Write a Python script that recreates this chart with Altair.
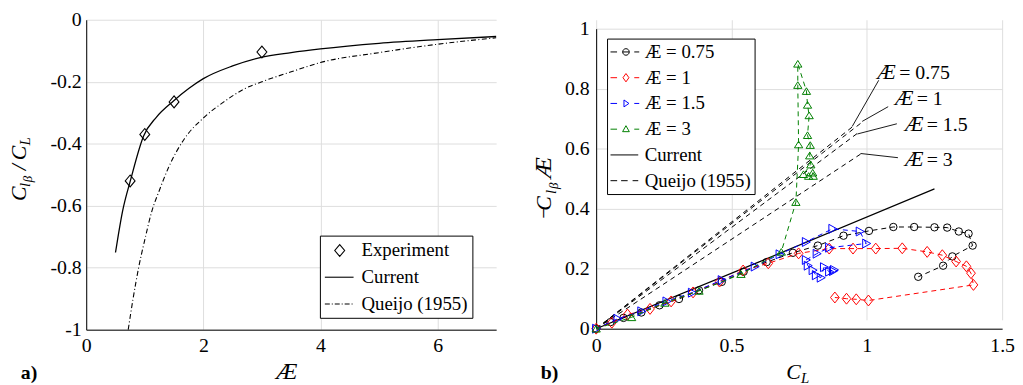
import altair as alt
import pandas as pd

FONT = "Liberation Serif"

# ---------------- panel a data ----------------
exp_ar = [0.75, 1.0, 1.5, 3.0]
exp_val = [-0.52, -0.37, -0.265, -0.104]
cur_a_ar = [0.5, 0.62, 0.76, 0.98, 1.2, 1.49, 1.75, 2.0, 2.5, 2.97, 3.5, 4.0, 5.0, 6.0, 7.0]
cur_a_val = [-0.751, -0.618, -0.515, -0.375, -0.314, -0.262, -0.222, -0.19, -0.149, -0.122,
             -0.106, -0.094, -0.076, -0.064, -0.054]
que_a_ar = [0.717, 0.8, 0.9, 1.0, 1.12, 1.25, 1.4, 1.68, 2.0, 2.35, 2.69, 3.0, 3.5, 4.0, 5.0, 6.0, 7.0]
que_a_val = [-1.0, -0.9, -0.795, -0.71, -0.618, -0.55, -0.479, -0.383, -0.317, -0.265,
             -0.224, -0.2, -0.168, -0.138, -0.106, -0.079, -0.058]
legend_a_names = ["Experiment", "Current", "Queijo (1955)"]
legend_a_paths = [
    "M0.5,-0.6L1,0L0.5,0.6L0,0Z",
    "M-1,0H1.9",
    "M-1,0H-0.5M-0.3,0H-0.2M0,0H0.5M0.7,0H0.8M1,0H1.5M1.7,0H1.8",
]
xticks_a = [0, 2, 4, 6]
yticks_a = [-1, -0.8, -0.6, -0.4, -0.2, 0]

# ---------------- panel b data ----------------
s075_cl = [0, 0.053, 0.101, 0.167, 0.234, 0.306, 0.38, 0.464, 0.545, 0.63, 0.727, 0.819, 0.914,
           1.008, 1.098, 1.175, 1.25, 1.297, 1.34, 1.376, 1.391, 1.316, 1.282, 1.19]
s075_v = [0, 0.022, 0.036, 0.054, 0.078, 0.099, 0.128, 0.156, 0.19, 0.222, 0.253, 0.277, 0.31,
          0.326, 0.339, 0.339, 0.338, 0.337, 0.324, 0.317, 0.277, 0.241, 0.21, 0.173]
s1_cl = [0, 0.058, 0.116, 0.199, 0.277, 0.358, 0.456, 0.543, 0.636, 0.748, 0.861, 0.949, 1.033,
         1.131, 1.223, 1.279, 1.33, 1.368, 1.385, 1.394, 1.006, 0.961, 0.925, 0.882]
s1_v = [0, 0.02, 0.047, 0.066, 0.091, 0.121, 0.157, 0.194, 0.218, 0.251, 0.267, 0.267, 0.267,
        0.268, 0.256, 0.245, 0.224, 0.208, 0.185, 0.146, 0.094, 0.098, 0.1, 0.104]
s15_cl = [0, 0.079, 0.167, 0.26, 0.354, 0.464, 0.586, 0.678, 0.775, 0.873, 0.974, 0.998, 0.861,
          0.815, 0.775, 0.782, 0.8, 0.812, 0.83, 0.842, 0.861, 0.875, 0.879]
s15_v = [0, 0.033, 0.058, 0.091, 0.12, 0.162, 0.207, 0.248, 0.289, 0.333, 0.324, 0.284, 0.27,
         0.25, 0.229, 0.21, 0.195, 0.178, 0.17, 0.205, 0.19, 0.192, 0.196]
s3_cl = [0, 0.131, 0.254, 0.38, 0.535, 0.684, 0.738, 0.748, 0.745, 0.745, 0.777, 0.781, 0.787,
         0.781, 0.791, 0.789, 0.793, 0.766, 0.785, 0.802, 0.8]
s3_v = [0, 0.038, 0.086, 0.126, 0.182, 0.256, 0.422, 0.614, 0.812, 0.883, 0.792, 0.746, 0.711,
        0.645, 0.612, 0.577, 0.547, 0.515, 0.509, 0.509, 0.52]
series_b = [
    ("Æ = 0.75", s075_cl, s075_v, "black", "circle", 56),
    ("Æ = 1", s1_cl, s1_v, "#ff0000", "M0,-1L0.8,0L0,1L-0.8,0Z", 121),
    ("Æ = 1.5", s15_cl, s15_v, "#0000ff", "M-0.8,-1L1,0L-0.8,1Z", 81),
    ("Æ = 3", s3_cl, s3_v, "#008000", "M0,-0.8L1,0.8L-1,0.8Z", 70),
]
cur_b_cl = [0, 0.6, 1.25]
cur_b_v = [0, 0.222, 0.466]
que_b_ar = ["0.75", "1", "1.5", "3"]
que_b_end_cl = [0.95, 0.985, 0.965, 0.977]
que_b_end_v = [0.675, 0.69, 0.651, 0.582]
ann_labels = ["= 0.75", "= 1", "= 1.5", "= 3"]
ann_cl = [1.039, 1.104, 1.141, 1.141]
ann_v = [0.852, 0.764, 0.680, 0.561]
lead_from_cl = [1.044, 1.079, 1.111, 1.115]
lead_from_v = [0.828, 0.740, 0.683, 0.570]
lead_to_cl = [0.946, 0.983, 0.965, 0.977]
lead_to_v = [0.674, 0.691, 0.649, 0.584]
legend_b_names = ["Æ = 0.75", "Æ = 1", "Æ = 1.5", "Æ = 3", "Current", "Queijo (1955)  "]
legend_b_colors = ["black", "#ff0000", "#0000ff", "#008000", "black", "black"]
legend_b_paths = [
    "M-1,0H-0.34M0.23,0A0.33,0.33 0 1,1 0.89,0A0.33,0.33 0 1,1 0.23,0M0.23,0H0.89M1.4,0H1.9",
    "M-1,0H-0.34M0.56,-0.42L0.86,0L0.56,0.42L0.26,0ZM1.4,0H1.9",
    "M-1,0H-0.34M0.36,-0.35L0.86,0L0.36,0.35ZM1.4,0H1.9",
    "M-1,0H-0.34M0.56,-0.35L0.9,0.25L0.22,0.25ZM1.4,0H1.9",
    "M-1,0H1.8",
    "M-1,0H-0.33M0.07,0H0.73M1.23,0H1.8",
]
xticks_b = [0, 0.5, 1, 1.5]
yticks_b = [0, 0.2, 0.4, 0.6, 0.8, 1]

# title pieces (text, x, y, size, style)
title_a = [("C", -61, 183, 22, "italic"), ("l", -57, 169, 15, "italic"), ("β", -55, 164, 13, "italic"),
           ("/", -61, 152, 22, "italic"), ("C", -61, 142, 22, "italic"), ("L", -57, 127, 15, "italic")]
xtitle_a = [("Æ", 192, 363, 24, "italic")]
title_b = [("−", -46, 201, 22, "normal"), ("C", -46, 193, 22, "italic"), ("l", -41, 176, 15, "italic"),
           ("β", -39, 171, 13, "italic"), ("Æ", -46, 160, 24, "italic")]
xtitle_b = [("C", 192, 363, 22, "italic"), ("L", 207, 367, 15, "italic")]
W_A, H_A = 414, 313
W_B, H_B = 410, 312

LABEL_EXPR = "replace(format(datum.value, '~g'), '\u2212', '-')"


def axis(values, pad):
    return alt.Axis(values=values, title=None, domainColor="black", domainWidth=1,
                    gridColor="#dedede", gridWidth=1, ticks=False, labelFont=FONT,
                    labelFontSize=20, labelColor="black", labelFlush=False,
                    labelPadding=pad, labelExpr=LABEL_EXPR, grid=True)


def text_layers(pieces, angle):
    out = []
    for t, x, y, s, st in pieces:
        out.append(
            alt.Chart(pd.DataFrame({"t": [t]})).mark_text(
                font=FONT, fontSize=s, fontStyle=st, angle=angle, align="left",
                baseline="alphabetic", color="black"
            ).encode(text="t:N", x=alt.value(x), y=alt.value(y))
        )
    return out


def bold_label(t, x, y):
    return alt.Chart(pd.DataFrame({"t": [t]})).mark_text(
        font=FONT, fontSize=20, fontWeight="bold", align="left", baseline="alphabetic", color="black"
    ).encode(text="t:N", x=alt.value(x), y=alt.value(y))


# ---------------- panel a ----------------
XA = alt.X("x:Q", scale=alt.Scale(domain=[0, 7], nice=False, zero=False), axis=axis(xticks_a, 6))
YA = alt.Y("y:Q", scale=alt.Scale(domain=[-1, 0], nice=False, zero=False), axis=axis(yticks_a, 5))

df_cur_a = pd.DataFrame({"x": cur_a_ar, "y": cur_a_val, "i": range(len(cur_a_ar))})
df_que_a = pd.DataFrame({"x": que_a_ar, "y": que_a_val, "i": range(len(que_a_ar))})
df_exp = pd.DataFrame({"x": exp_ar, "y": exp_val})

line_cur_a = alt.Chart(df_cur_a).mark_line(color="black", strokeWidth=1.3, interpolate="monotone").encode(
    x=XA, y=YA, order="i:Q")
line_que_a = alt.Chart(df_que_a).mark_line(color="black", strokeWidth=1.1, strokeDash=[5, 2.5, 1, 2.5],
                                           interpolate="monotone").encode(x=XA, y=YA, order="i:Q")
pts_exp = alt.Chart(df_exp).mark_point(shape="M0,-1L0.83,0L0,1L-0.83,0Z", size=144, filled=False,
                                       color="black", strokeWidth=1.1, opacity=1).encode(x=XA, y=YA)

leg_a = alt.Legend(orient="none", legendX=236, legendY=218, title=None, strokeColor="black",
                   fillColor="white", padding=4, labelFont=FONT, labelFontSize=19, labelColor="black",
                   symbolSize=400, symbolStrokeWidth=1.1, labelOffset=16, rowPadding=6,
                   symbolFillColor="white", cornerRadius=0)
ghost_a = alt.Chart(pd.DataFrame({"leg_a": legend_a_names})).transform_filter("false").mark_point(
    filled=False, opacity=1).encode(
    shape=alt.Shape("leg_a:N", scale=alt.Scale(domain=legend_a_names, range=legend_a_paths), legend=leg_a),
    color=alt.Color("leg_a:N", scale=alt.Scale(domain=legend_a_names, range=["black"] * 3), legend=leg_a),
)

panel_a = alt.layer(
    line_que_a, line_cur_a, pts_exp, ghost_a,
    *text_layers(title_a, 270), *text_layers(xtitle_a, 0), bold_label("a)", -66, 363)
).properties(width=W_A, height=H_A)

# ---------------- panel b ----------------
XB = alt.X("x:Q", scale=alt.Scale(domain=[0, 1.5], nice=False, zero=False), axis=axis(xticks_b, 7))
YB = alt.Y("y:Q", scale=alt.Scale(domain=[0, 1], range=[H_B, 9], nice=False, zero=False), axis=axis(yticks_b, 7))

que_rows = []
for ar, ex, ey in zip(que_b_ar, que_b_end_cl, que_b_end_v):
    que_rows.append({"ar": ar, "x": 0.0, "y": 0.0, "i": 0})
    que_rows.append({"ar": ar, "x": ex, "y": ey, "i": 1})
df_que_b = pd.DataFrame(que_rows)
line_que_b = alt.Chart(df_que_b).mark_line(color="black", strokeWidth=1, strokeDash=[5, 4]).encode(
    x=XB, y=YB, detail="ar:N", order="i:Q")

df_cur_b = pd.DataFrame({"x": cur_b_cl, "y": cur_b_v, "i": range(len(cur_b_cl))})
line_cur_b = alt.Chart(df_cur_b).mark_line(color="black", strokeWidth=1.2).encode(x=XB, y=YB, order="i:Q")

series_layers = []
for name, cl, v, col, shp, sz in series_b:
    d = pd.DataFrame({"x": cl, "y": v, "i": range(len(cl))})
    series_layers.append(alt.Chart(d).mark_line(color=col, strokeWidth=1, strokeDash=[5, 4]).encode(
        x=XB, y=YB, order="i:Q"))
    series_layers.append(alt.Chart(d).mark_point(shape=shp, size=sz, filled=False, color=col,
                                                 strokeWidth=1, opacity=1).encode(x=XB, y=YB))

df_ann = pd.DataFrame({"x": ann_cl, "y": ann_v, "lab": ann_labels,
                       "x1": lead_from_cl, "y1": lead_from_v, "x2": lead_to_cl, "y2": lead_to_v})
lead = alt.Chart(df_ann).mark_rule(color="black", strokeWidth=0.9).encode(
    x=alt.X("x1:Q", scale=alt.Scale(domain=[0, 1.5], nice=False, zero=False), axis=axis(xticks_b, 7)),
    y=alt.Y("y1:Q", scale=alt.Scale(domain=[0, 1], range=[H_B, 9], nice=False, zero=False), axis=axis(yticks_b, 7)),
    x2="x2:Q", y2="y2:Q")
ann_ar = alt.Chart(df_ann).mark_text(font=FONT, fontSize=21, fontStyle="italic", align="left",
                                     baseline="middle", color="black").encode(
    x=XB, y=YB, text=alt.value("Æ"))
ann_txt = alt.Chart(df_ann).mark_text(font=FONT, fontSize=20, align="left", baseline="middle",
                                      color="black", dx=22).encode(x=XB, y=YB, text="lab:N")

leg_b = alt.Legend(orient="none", legendX=11, legendY=19, title=None, strokeColor="black",
                   fillColor="white", padding=3, labelFont=FONT, labelFontSize=19, labelColor="black",
                   symbolSize=400, symbolStrokeWidth=1, labelOffset=14, rowPadding=5,
                   symbolFillColor="white", cornerRadius=0)
ghost_b = alt.Chart(pd.DataFrame({"leg_b": legend_b_names})).transform_filter("false").mark_point(
    filled=False, opacity=1).encode(
    shape=alt.Shape("leg_b:N", scale=alt.Scale(domain=legend_b_names, range=legend_b_paths), legend=leg_b),
    color=alt.Color("leg_b:N", scale=alt.Scale(domain=legend_b_names, range=legend_b_colors), legend=leg_b),
)

panel_b = alt.layer(
    line_que_b, line_cur_b, *series_layers, lead, ann_ar, ann_txt, ghost_b,
    *text_layers(title_b, 270), *text_layers(xtitle_b, 0), bold_label("b)", -56, 363)
).properties(width=W_B, height=H_B)

chart = alt.hconcat(panel_a, panel_b, spacing=101, bounds="flush").resolve_scale(
    color="independent", shape="independent"
).resolve_legend(color="independent", shape="independent").properties(
    padding=0, background="white"
).configure_view(strokeWidth=0)

chart.save("out.html", embed_options={"renderer": "svg", "actions": False})
